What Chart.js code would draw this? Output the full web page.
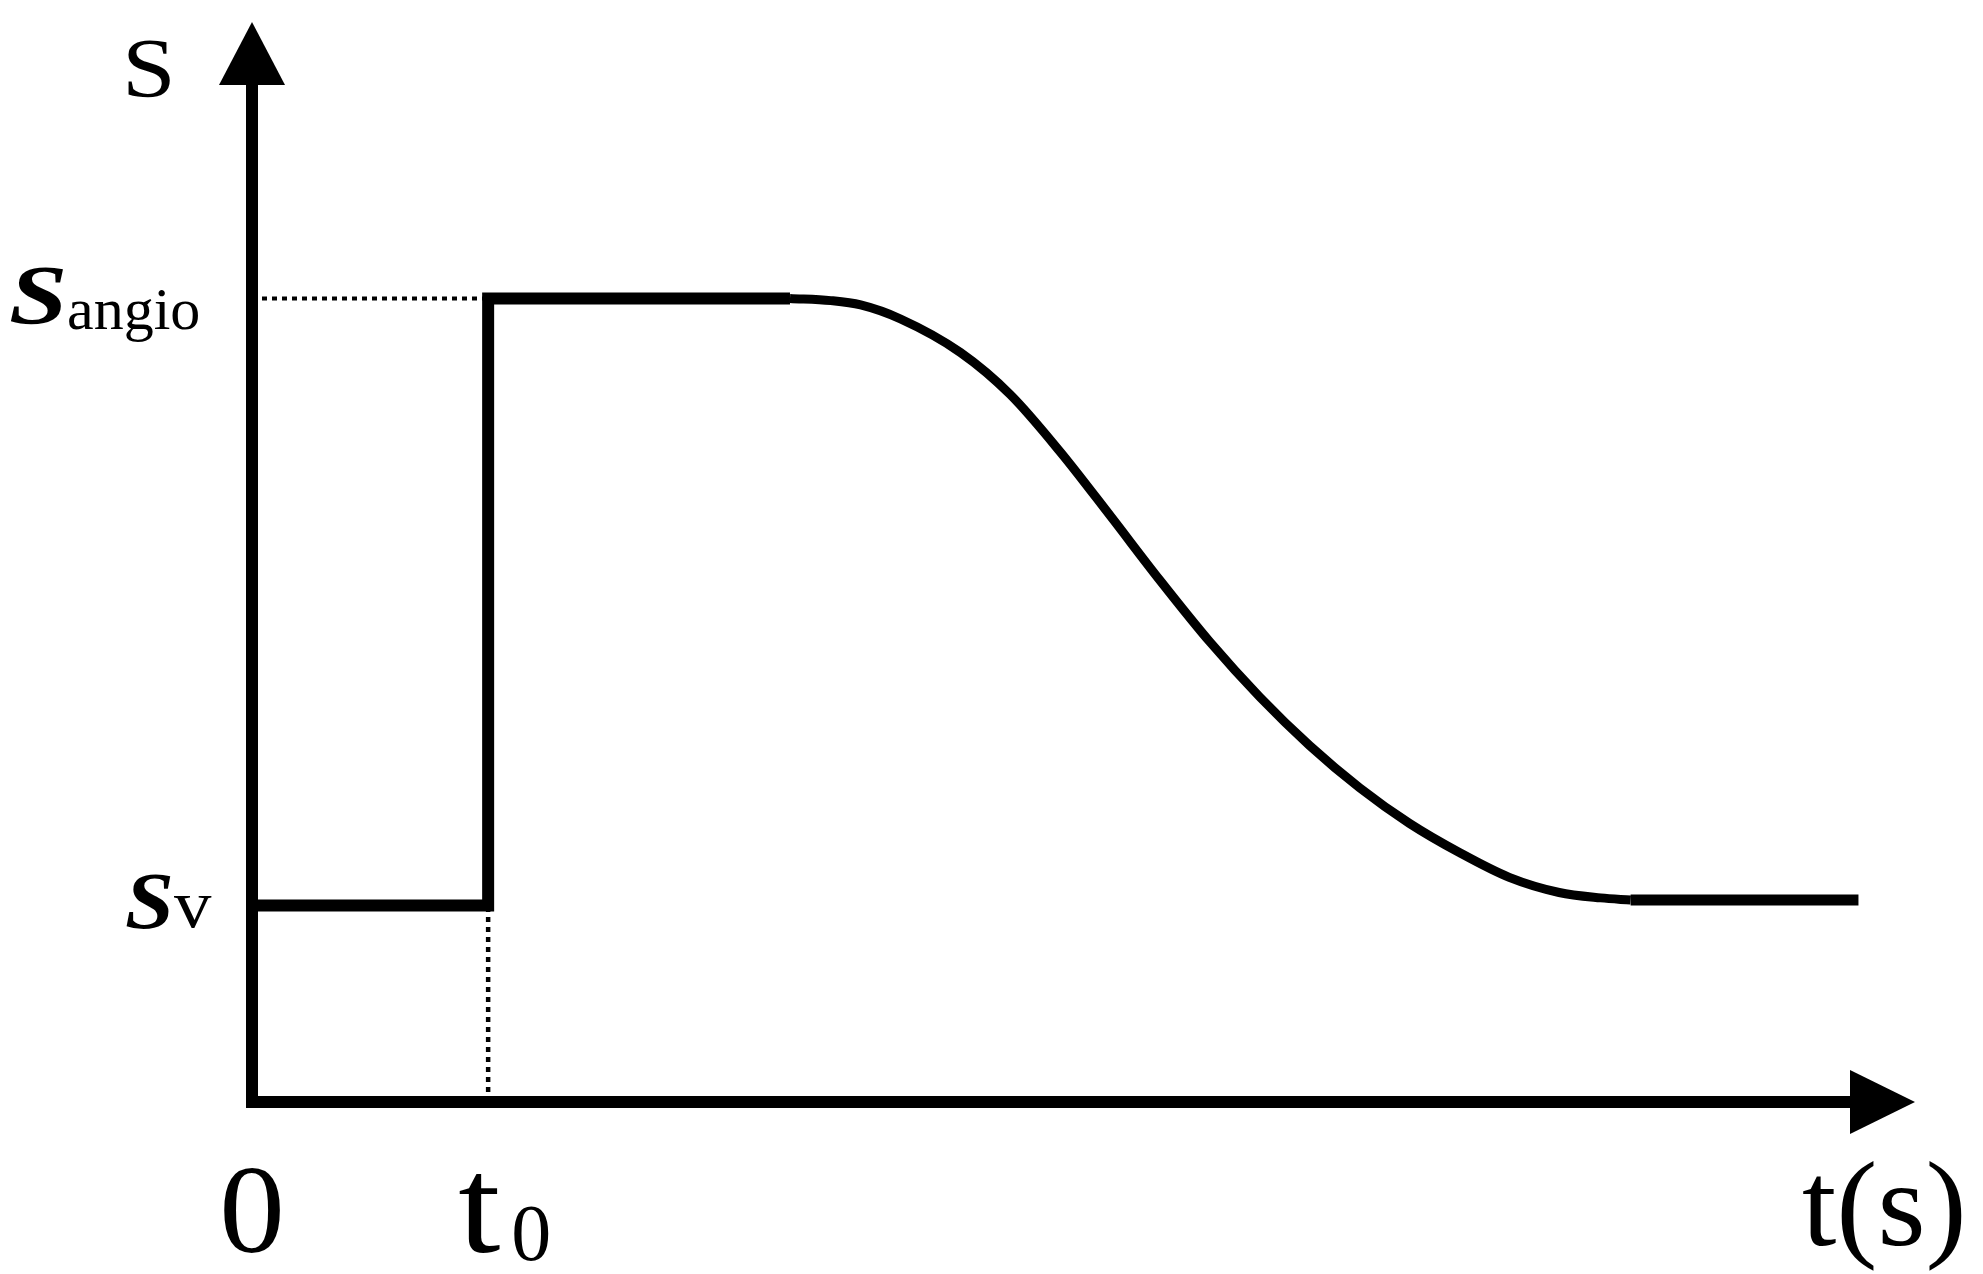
<!DOCTYPE html>
<html>
<head>
<meta charset="utf-8">
<script src="https://cdn.jsdelivr.net/npm/chart.js@4.4.1/dist/chart.umd.min.js"></script>
<style>
  html, body { margin: 0; padding: 0; background: #fff; }
  #wrap { width: 1983px; height: 1274px; }
</style>
</head>
<body>
<div id="wrap"><canvas id="myChart"></canvas></div>
<script>
// Values (time and signal in plot units, 0..100)
const xRange = [0, 100];
const yRange = [0, 100];

const t0 = 14.2;
const sAngio = 74.4;
const sV = 18.2;

// baseline, jump at t0, plateau
const stepT = [0, 14.2, 14.2, 32.35];
const stepS = [18.2, 18.2, 74.4, 74.4];

// sigmoid decay after the plateau
const decayT = [32.35, 34.8, 36.6, 39.0, 42.6, 45.6, 48.6, 51.6, 54.6, 57.6,
                60.6, 63.6, 66.6, 69.6, 72.6, 75.6, 78.6, 81.1, 82.9];
const decayS = [74.4, 74.2, 73.8, 72.5, 69.4, 65.5, 60.2, 54.3, 48.3, 42.6,
                37.5, 33.0, 29.1, 25.8, 23.1, 20.8, 19.4, 18.9, 18.7];

// flat tail
const tailT = [82.9, 96.6];
const tailS = [18.7, 18.7];

const toPoints = (xs, ys) => xs.map((x, i) => ({ x: x, y: ys[i] }));

const serif = "'Liberation Serif', 'Times New Roman', serif";

// text with optional horizontal stretch
function drawText(ctx, text, x, y, font, sx) {
    ctx.save();
    ctx.font = font;
    ctx.translate(x, y);
    ctx.scale(sx || 1, 1);
    ctx.fillText(text, 0, 0);
    ctx.restore();
}

// axes with arrow heads and the labels
const axisDecor = {
    id: 'axisDecor',
    beforeDatasetsDraw(chart) {
        const ctx = chart.ctx;
        const xs = chart.scales.x, ys = chart.scales.y;
        const x0 = xs.getPixelForValue(xRange[0]);
        const x1 = xs.getPixelForValue(xRange[1]);
        const y0 = ys.getPixelForValue(yRange[0]);
        const y1 = ys.getPixelForValue(yRange[1]);
        ctx.save();
        ctx.strokeStyle = '#000';
        ctx.fillStyle = '#000';
        ctx.lineWidth = 12;
        ctx.lineCap = 'butt';
        ctx.beginPath();
        ctx.moveTo(x0, y0 + 6);
        ctx.lineTo(x0, y1 + 60);
        ctx.moveTo(x0 - 6, y0);
        ctx.lineTo(x1 - 60, y0);
        ctx.stroke();
        // y arrow
        ctx.beginPath();
        ctx.moveTo(x0, y1);
        ctx.lineTo(x0 - 33, y1 + 63);
        ctx.lineTo(x0 + 33, y1 + 63);
        ctx.closePath();
        ctx.fill();
        // x arrow
        ctx.beginPath();
        ctx.moveTo(x1, y0);
        ctx.lineTo(x1 - 65, y0 - 32);
        ctx.lineTo(x1 - 65, y0 + 32);
        ctx.closePath();
        ctx.fill();
        ctx.restore();
    },
    afterDatasetsDraw(chart) {
        const ctx = chart.ctx;
        const xs = chart.scales.x, ys = chart.scales.y;
        const x0 = xs.getPixelForValue(xRange[0]);
        const x1 = xs.getPixelForValue(xRange[1]);
        const y0 = ys.getPixelForValue(yRange[0]);
        const y1 = ys.getPixelForValue(yRange[1]);
        const yA = ys.getPixelForValue(sAngio);
        const yV = ys.getPixelForValue(sV);
        const xt = xs.getPixelForValue(t0);
        ctx.save();
        ctx.fillStyle = '#000';
        ctx.textBaseline = 'alphabetic';
        ctx.textAlign = 'left';

        // S (axis title)
        drawText(ctx, 'S', x0 - 130, y1 + 75, '84px ' + serif, 1.15);

        // S_angio
        drawText(ctx, 'S', x0 - 243, yA + 26, 'bold italic 84px ' + serif, 1.25);
        drawText(ctx, 'angio', x0 - 185, yA + 31, '60px ' + serif, 1);

        // S_v
        drawText(ctx, 'S', x0 - 127, yV + 23, 'bold italic 80px ' + serif, 1.1);
        drawText(ctx, 'v', x0 - 78, yV + 22, '68px ' + serif, 1.1);

        // 0
        ctx.textAlign = 'center';
        drawText(ctx, '0', x0, y0 + 150, '125px ' + serif, 1.05);

        // t_0
        ctx.textAlign = 'left';
        drawText(ctx, 't', xt - 30, y0 + 150, '138px ' + serif, 1.1);
        drawText(ctx, '0', xt + 23, y0 + 158, '80px ' + serif, 1);

        // t(s)
        drawText(ctx, 't(s)', x1 - 113, y0 + 143, '120px ' + serif, 1.03);
        ctx.restore();
    }
};

const ctx = document.getElementById('myChart').getContext('2d');
const myChart = new Chart(ctx, {
    type: 'scatter',
    data: {
        datasets: [
            {
                data: toPoints([xRange[0], t0], [sAngio, sAngio]),
                showLine: true, borderColor: '#000', borderWidth: 4,
                borderDash: [5, 5], pointRadius: 0
            },
            {
                data: toPoints([t0, t0], [yRange[0], sV]),
                showLine: true, borderColor: '#000', borderWidth: 4.5,
                borderDash: [5, 5], pointRadius: 0
            },
            {
                data: toPoints(stepT, stepS),
                showLine: true, borderColor: '#000', borderWidth: 12,
                borderJoinStyle: 'miter', pointRadius: 0
            },
            {
                data: toPoints(decayT, decayS),
                showLine: true, borderColor: '#000', borderWidth: 9,
                cubicInterpolationMode: 'monotone', pointRadius: 0
            },
            {
                data: toPoints(tailT, tailS),
                showLine: true, borderColor: '#000', borderWidth: 11,
                pointRadius: 0
            }
        ]
    },
    options: {
        responsive: true,
        maintainAspectRatio: false,
        animation: false,
        layout: { padding: { left: 252, right: 68, top: 22, bottom: 172 } },
        plugins: {
            legend: { display: false },
            tooltip: { enabled: false }
        },
        scales: {
            x: { type: 'linear', display: false, min: xRange[0], max: xRange[1] },
            y: { type: 'linear', display: false, min: yRange[0], max: yRange[1] }
        }
    },
    plugins: [axisDecor]
});
</script>
</body>
</html>
